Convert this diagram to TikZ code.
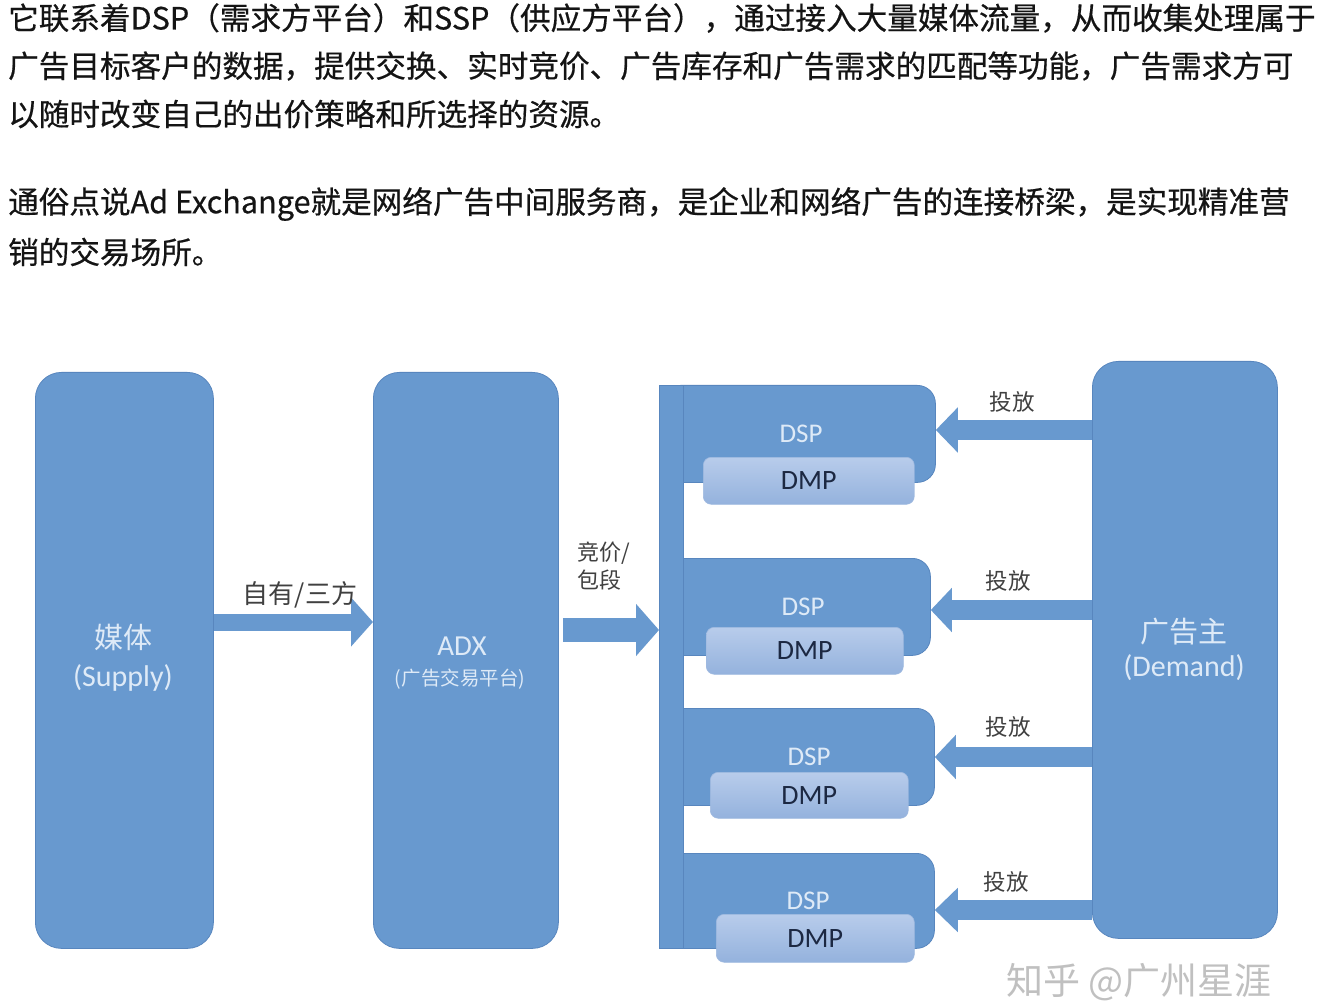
\documentclass[tikz,border=0pt]{standalone}
\usepackage{fontspec}
\setmainfont{Noto Sans CJK SC}
\newfontfamily\parafont{Noto Sans CJK SC}[FakeBold=0.5]
\newfontfamily\latinbox{Carlito}
\usetikzlibrary{arrows.meta}
\definecolor{boxblue}{RGB}{104,153,207}
\definecolor{boxline}{RGB}{88,134,190}
\definecolor{boxtext}{RGB}{222,234,247}
\definecolor{dmptop}{RGB}{184,204,235}
\definecolor{dmpbot}{RGB}{148,178,221}
\definecolor{dmpline}{RGB}{160,186,224}
\definecolor{dmptext}{RGB}{28,40,66}
\definecolor{labeltext}{RGB}{64,64,64}
\definecolor{paratext}{RGB}{20,20,20}
\definecolor{wmark}{RGB}{192,192,192}
\tikzset{
  para/.style={anchor=west, inner sep=0pt, text=paratext, font=\parafont\fontsize{30.6}{36}\selectfont},
  bigbox/.style={draw=boxline, line width=0.8pt, fill=boxblue, rounded corners=26pt, anchor=north west, inner sep=0pt},
  dspbox/.style={draw=boxline, line width=0.8pt, fill=boxblue, rounded corners=18pt, anchor=north west, inner sep=0pt, minimum height=97pt},
  barbox/.style={draw=boxline, line width=0.8pt, fill=boxblue, anchor=north west, inner sep=0pt},
  dmpbox/.style={draw=dmpline, line width=0.6pt, top color=dmptop, bottom color=dmpbot, rounded corners=8pt, anchor=north west, inner sep=0pt, minimum height=47pt, text=dmptext, font=\latinbox\fontsize{28}{30}\selectfont},
  boxcjk/.style={inner sep=0pt, text=boxtext, font=\fontsize{29}{32}\selectfont},
  boxlat/.style={inner sep=0pt, text=boxtext, font=\latinbox\fontsize{30}{32}\selectfont},
  dsptxt/.style={inner sep=0pt, text=boxtext, font=\latinbox\fontsize{27}{30}\selectfont},
  lbl/.style={inner sep=0pt, text=labeltext, font=\fontsize{22.5}{26}\selectfont},
  blockarrow/.style={draw=boxblue, line width=#1, line cap=butt},
}
\begin{document}
\begin{tikzpicture}[x=1pt,y=-1pt]
\useasboundingbox (0,0) rectangle (1334,1008);
\fill[white] (0,0) rectangle (1334,1008);

% paragraph text
\node[para] (p1) at (8,18) {它联系着DSP（需求方平台）和SSP（供应方平台），通过接入大量媒体流量，从而收集处理属于};
\node[para] (p2) at (8,66) {广告目标客户的数据，提供交换、实时竞价、广告库存和广告需求的匹配等功能，广告需求方可};
\node[para] (p3) at (8,114) {以随时改变自己的出价策略和所选择的资源。};
\node[para] (p4) at (8,204) {通俗点说Ad Exchange就是网络广告中间服务商，是企业和网络广告的连接桥梁，是实现精准营};
\node[para] (p5) at (8,252) {销的交易场所。};

% main boxes
\node[bigbox, minimum width=178pt, minimum height=576pt] (supply) at (35,372) {};
\node[bigbox, minimum width=185pt, minimum height=576pt] (adx) at (373,372) {};
\node[bigbox, minimum width=185pt, minimum height=577pt] (demand) at (1092,361) {};

\node[boxcjk] (supplyzh) at (123,637) {媒体};
\node[boxlat] (supplyen) at (123,678) {(Supply)};
\node[boxlat, font=\latinbox\fontsize{29}{32}\selectfont] (adxen) at (462,646) {ADX};
\node[boxcjk, font=\fontsize{19.5}{22}\selectfont] (adxzh) at (460,679) {(广告交易平台)};
\node[boxcjk] (demandzh) at (1184,632) {广告主};
\node[boxlat] (demanden) at (1184,668) {(Demand)};

% DSP boxes
\node[dspbox, minimum width=273pt] (dsp1) at (662,385) {};
\node[dspbox, minimum width=268pt] (dsp2) at (662,558) {};
\node[dspbox, minimum width=272pt] (dsp3) at (662,708) {};
\node[dspbox, minimum width=272pt, minimum height=95pt] (dsp4) at (662,853) {};

\node[dsptxt] (dsp1t) at (801,434) {DSP};
\node[dsptxt] (dsp2t) at (803,607) {DSP};
\node[dsptxt] (dsp3t) at (809,757) {DSP};
\node[dsptxt] (dsp4t) at (808,901) {DSP};

\node[dmpbox, minimum width=211pt] (dmp1) at (703,457) {DMP};
\node[dmpbox, minimum width=197pt] (dmp2) at (706,627) {DMP};
\node[dmpbox, minimum width=198pt, minimum height=46pt] (dmp3) at (710,772) {DMP};
\node[dmpbox, minimum width=198pt, minimum height=48pt] (dmp4) at (716,914) {DMP};

% vertical bar
\node[barbox, minimum width=24pt, minimum height=563pt] (bar) at (659,385) {};

% arrow levels
\coordinate (ya) at (0,622);
\coordinate (yb) at (0,630);
\coordinate (y1) at (0,430);
\coordinate (y2) at (0,610);
\coordinate (y3) at (0,757);
\coordinate (y4) at (0,910);

\draw[blockarrow=17pt, -{Triangle[width=48pt,length=22pt]}] (supply.east |- ya) -- (adx.west |- ya);
\draw[blockarrow=24pt, -{Triangle[width=51pt,length=23pt]}] ([xshift=4pt]adx.east |- yb) -- (bar.west |- yb);
\draw[blockarrow=20pt, -{Triangle[width=44pt,length=22pt]}] (demand.west |- y1) -- (dsp1.east |- y1);
\draw[blockarrow=20pt, -{Triangle[width=43pt,length=21pt]}] (demand.west |- y2) -- (dsp2.east |- y2);
\draw[blockarrow=20pt, -{Triangle[width=43pt,length=21pt]}] (demand.west |- y3) -- (dsp3.east |- y3);
\draw[blockarrow=20pt, -{Triangle[width=43pt,length=23pt]}] (demand.west |- y4) -- (dsp4.east |- y4);

% labels
\node[lbl, font=\fontsize{26}{28}\selectfont] (la) at (300,595) {自有/三方};
\node[lbl, anchor=west, align=left, font=\fontsize{22}{28}\selectfont] (lb) at (577,566) {竞价/\\包段};
\node[lbl] (l1) at (1012,402) {投放};
\node[lbl] (l2) at (1008,581) {投放};
\node[lbl] (l3) at (1008,727) {投放};
\node[lbl] (l4) at (1006,882) {投放};

% watermark
\node[inner sep=0pt, text=wmark, font=\fontsize{37}{40}\selectfont] (wm) at (1139,982) {知乎 @广州星涯};
\end{tikzpicture}
\end{document}
